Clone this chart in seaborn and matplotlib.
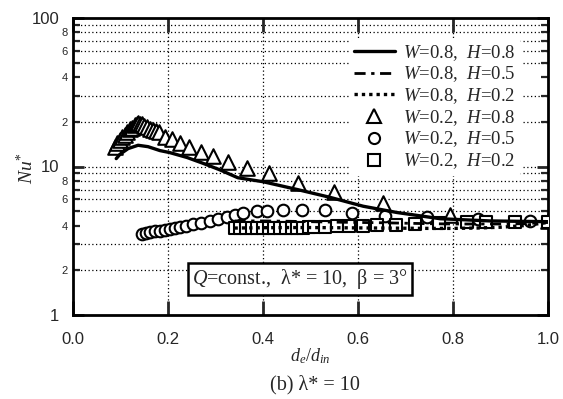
import numpy as np
import pandas as pd
import matplotlib
matplotlib.use("Agg")
import matplotlib.pyplot as plt
from matplotlib.lines import Line2D
from matplotlib.ticker import FixedLocator, FixedFormatter, NullFormatter
import seaborn as sns

# ---- data ----
# W=0.8, H=0.8 (solid line)
x_w8h8 = [0.091, 0.099, 0.116, 0.137, 0.158, 0.183, 0.204, 0.240, 0.274, 0.309,
          0.347, 0.400, 0.472, 0.541, 0.611, 0.682, 0.773, 0.878, 1.000]
y_w8h8 = [11.3, 12.1, 13.2, 13.9, 13.6, 12.8, 12.4, 11.5, 10.5, 9.5,
          8.4, 7.9, 7.0, 6.2, 5.4, 4.9, 4.45, 4.3, 4.25]

# W=0.8, H=0.5 (dash-dot line)
x_w8h5 = [0.34, 0.40, 0.45, 0.50, 0.55, 0.60, 0.65, 0.70, 0.75, 0.80, 0.85, 0.90, 0.95, 1.00]
y_w8h5 = [4.3, 4.3, 4.28, 4.25, 4.22, 4.2, 4.18, 4.15, 4.12, 4.1, 4.1, 4.1, 4.12, 4.2]

# W=0.8, H=0.2 (dotted line)
x_w8h2 = [0.34, 0.40, 0.45, 0.50, 0.55, 0.60, 0.65, 0.70, 0.75, 0.80, 0.85, 0.90, 0.95, 1.00]
y_w8h2 = [3.85, 3.87, 3.88, 3.88, 3.87, 3.86, 3.85, 3.84, 3.83, 3.83, 3.85, 3.9, 4.0, 4.2]

# W=0.2, H=0.8 (triangles)
x_w2h8 = [0.088, 0.093, 0.099, 0.104, 0.109, 0.114, 0.120, 0.125, 0.130, 0.134, 0.137,
          0.141, 0.145, 0.150, 0.156, 0.162, 0.168, 0.175, 0.181, 0.194, 0.208, 0.225,
          0.244, 0.269, 0.295, 0.326, 0.366, 0.413, 0.474, 0.549, 0.653, 0.794, 1.000]
y_w2h8 = [13.6, 14.3, 15.0, 15.7, 16.4, 17.1, 17.8, 18.3, 18.9, 19.3, 19.5,
          19.4, 19.2, 18.8, 18.4, 18.0, 17.5, 17.3, 17.0, 15.9, 15.2, 14.5,
          13.6, 12.6, 11.7, 10.8, 9.7, 9.0, 7.7, 6.7, 5.7, 4.7, 4.3]

# W=0.2, H=0.5 (circles)
x_w2h5 = [0.145, 0.153, 0.162, 0.172, 0.183, 0.193, 0.204, 0.214, 0.225, 0.238,
          0.253, 0.270, 0.288, 0.306, 0.324, 0.341, 0.358, 0.387, 0.408, 0.442,
          0.482, 0.531, 0.587, 0.657, 0.745, 0.853, 0.962]
y_w2h5 = [3.5, 3.55, 3.6, 3.65, 3.7, 3.76, 3.8, 3.86, 3.92, 4.0,
          4.08, 4.18, 4.3, 4.45, 4.6, 4.75, 4.85, 5.0, 5.05, 5.1,
          5.1, 5.1, 4.85, 4.65, 4.6, 4.4, 4.3]

# W=0.2, H=0.2 (squares)
x_w2h2 = [0.340, 0.352, 0.364, 0.376, 0.388, 0.400, 0.412, 0.424, 0.436, 0.448,
          0.460, 0.472, 0.484, 0.496, 0.508, 0.530, 0.555, 0.580, 0.610, 0.640,
          0.680, 0.720, 0.770, 0.830, 0.870, 0.930, 1.000]
y_w2h2 = [3.87, 3.87, 3.87, 3.87, 3.87, 3.87, 3.87, 3.87, 3.87, 3.87,
          3.87, 3.87, 3.88, 3.9, 3.9, 3.92, 3.95, 3.97, 4.0, 4.02,
          4.05, 4.1, 4.15, 4.2, 4.2, 4.2, 4.25]

legend_labels = [r"$W$=0.8,  $H$=0.8", r"$W$=0.8,  $H$=0.5", r"$W$=0.8,  $H$=0.2",
                 r"$W$=0.2,  $H$=0.8", r"$W$=0.2,  $H$=0.5", r"$W$=0.2,  $H$=0.2"]

x_ticks = [0.0, 0.2, 0.4, 0.6, 0.8, 1.0]
x_ticklabels = ["0.0", "0.2", "0.4", "0.6", "0.8", "1.0"]
y_major = [1, 10, 100]
y_minor = [2, 3, 4, 5, 6, 7, 8, 9, 20, 30, 40, 50, 60, 70, 80, 90]
y_minor_labels = ["2", "", "4", "", "6", "", "8", "", "2", "", "4", "", "6", "", "8", ""]
y_grid = [2, 3, 5, 6, 7, 8, 9, 10, 20, 30, 50, 60, 70, 80, 90]

# ---- plot ----
sns.set_style("white")
plt.rcParams['font.family'] = ['Liberation Serif', 'DejaVu Serif']
plt.rcParams['mathtext.fontset'] = 'custom'
plt.rcParams['mathtext.rm'] = 'Liberation Serif'
plt.rcParams['mathtext.it'] = 'Liberation Serif:italic'

fig = plt.figure(figsize=(5.63, 3.99), dpi=100)
ax = fig.add_axes([73 / 563, 1 - 315 / 399, 475 / 563, 297 / 399])

# grid (dotted)
for g in [0.2, 0.4, 0.6, 0.8]:
    ax.axvline(g, color="black", lw=0.9, ls=(0, (1, 2)), zorder=0)
for g in y_grid:
    ax.axhline(g, color="black", lw=0.9, ls=(0, (1, 2)), zorder=0)

df1 = pd.DataFrame({"x": x_w8h8, "y": y_w8h8})
df2 = pd.DataFrame({"x": x_w8h5, "y": y_w8h5})
df3 = pd.DataFrame({"x": x_w8h2, "y": y_w8h2})
sns.lineplot(data=df1, x="x", y="y", ax=ax, color="black", lw=2.4, sort=False, zorder=4)
sns.lineplot(data=df2, x="x", y="y", ax=ax, color="black", lw=2.0,
             linestyle=(0, (4, 2, 1.2, 2)), sort=False, zorder=4)
sns.lineplot(data=df3, x="x", y="y", ax=ax, color="black", lw=2.4,
             linestyle=(0, (1, 1.2)), sort=False, zorder=4)

df4 = pd.DataFrame({"x": x_w2h8, "y": y_w2h8})
df5 = pd.DataFrame({"x": x_w2h5, "y": y_w2h5})
df6 = pd.DataFrame({"x": x_w2h2, "y": y_w2h2})
sns.scatterplot(data=df4, x="x", y="y", ax=ax, marker="^", s=110,
                facecolor="white", edgecolor="black", linewidth=1.5, zorder=3)
sns.scatterplot(data=df5, x="x", y="y", ax=ax, marker="o", s=70,
                facecolor="white", edgecolor="black", linewidth=1.5, zorder=3)
sns.scatterplot(data=df6, x="x", y="y", ax=ax, marker="s", s=70,
                facecolor="white", edgecolor="black", linewidth=1.5, zorder=3)

ax.set_yscale("log")
ax.set_xlim(0, 1)
ax.set_ylim(1, 100)

for s in ax.spines.values():
    s.set_linewidth(2.0)
    s.set_color("black")

ax.xaxis.set_major_locator(FixedLocator(x_ticks))
ax.xaxis.set_major_formatter(FixedFormatter(x_ticklabels))
ax.yaxis.set_major_locator(FixedLocator(y_major))
ax.yaxis.set_major_formatter(FixedFormatter([str(v) for v in y_major]))
ax.yaxis.set_minor_locator(FixedLocator(y_minor))
ax.yaxis.set_minor_formatter(FixedFormatter(y_minor_labels))
ax.xaxis.set_minor_formatter(NullFormatter())

ax.tick_params(axis="x", which="major", direction="in", length=10, width=2,
               top=True, bottom=True, pad=12, labelsize=12, labelfontfamily="Liberation Sans")
ax.tick_params(axis="y", which="major", direction="in", length=8, width=2,
               left=True, right=True, pad=10, labelsize=12, labelfontfamily="Liberation Sans")
ax.tick_params(axis="y", which="minor", direction="in", length=5, width=1.6,
               left=True, right=True, pad=4, labelsize=8, labelfontfamily="Liberation Sans")

ax.set_xlabel(r"$d_e/d_{in}$", fontsize=13)
ax.set_ylabel(r"$Nu^{*}$", fontsize=14)
ax.xaxis.set_label_coords(0.499, -0.105)
ax.yaxis.set_label_coords(-0.076, 0.495)

# legend
handles = [
    Line2D([], [], color="black", lw=2.4),
    Line2D([], [], color="black", lw=2.0, ls=(0, (4, 2, 1.2, 2))),
    Line2D([], [], color="black", lw=2.4, ls=(0, (1, 1.2))),
    Line2D([], [], color="black", marker="^", ls="", ms=10, mfc="white", mew=1.5),
    Line2D([], [], color="black", marker="o", ls="", ms=8, mfc="white", mew=1.5),
    Line2D([], [], color="black", marker="s", ls="", ms=8, mfc="white", mew=1.5),
]
leg = ax.legend(handles, legend_labels, loc="upper left",
                bbox_to_anchor=((350 - 73) / 475, (315 - 39) / 297),
                frameon=True, fontsize=13.5, handlelength=2.2, handletextpad=0.45,
                labelspacing=0.1, borderpad=0.2, borderaxespad=0)
leg.get_frame().set_facecolor("white")
leg.get_frame().set_edgecolor("white")
leg.get_frame().set_alpha(1)
leg.set_zorder(5)

# annotation box
ax.text(0.478, 1.75, r"$Q$=const.,  λ* = 10,  β = 3°", fontsize=14.5,
        ha="center", va="center", zorder=6,
        bbox=dict(boxstyle="square,pad=0.2", facecolor="white", edgecolor="black", lw=1.8))

fig.text(315 / 563, 1 - 385 / 399, "(b) λ* = 10", fontsize=14.5, ha="center", va="center")

fig.savefig("out.png", dpi=100)
